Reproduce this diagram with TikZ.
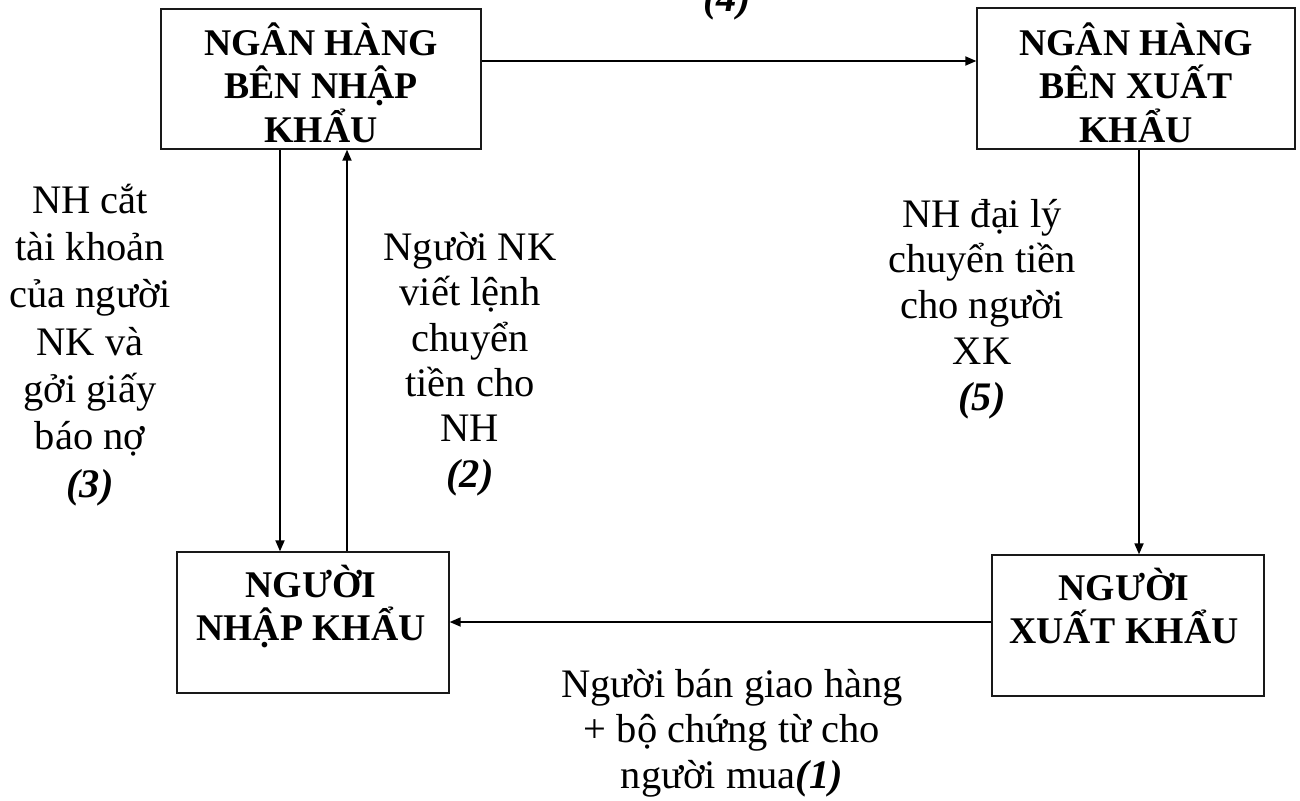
\documentclass[tikz,border=0pt]{standalone}
\usepackage{fontspec}
\setmainfont{Liberation Serif}
\usetikzlibrary{arrows.meta}

\tikzset{
  box/.style={draw=black!90, line width=1.3pt, rectangle, inner sep=0pt},
  boxtext/.style={anchor=north, inner sep=0pt, align=center,
    font=\fontsize{37.7pt}{43.5pt}\selectfont\bfseries},
  lbl/.style={anchor=north, inner sep=0pt, align=center,
    font=\fontsize{40.5pt}{45.5pt}\selectfont},
  arr/.style={line width=1.8pt, -{Triangle[length=11pt,width=9pt]}},
}
% first-line strut: node tops sit 42pt above the first baseline
\newcommand\tallstrut{\rule{0pt}{42pt}}
\newcommand\stepno[1]{\textbf{\textit{(#1)}}}

\begin{document}
\begin{tikzpicture}[x=1pt, y=-1pt]
  \useasboundingbox (0,0) rectangle (1300,800);
  \clip (0,0) rectangle (1300,800);

  % the four parties
  \node[box, minimum width=320pt, minimum height=140pt] (nhnk) at (321,79) {};
  \node[box, minimum width=318pt, minimum height=141pt] (nhxk) at (1136,78.5) {};
  \node[box, minimum width=272pt, minimum height=141pt] (nnk) at (313,622.5) {};
  \node[box, minimum width=272pt, minimum height=141pt] (nxk) at (1128,625.5) {};

  \node[boxtext] (nhnk-t) at (321,55-42) {\tallstrut NGÂN HÀNG\\BÊN NHẬP\\KHẨU};
  \node[boxtext] (nhxk-t) at (1136,55-42) {\tallstrut NGÂN HÀNG\\BÊN XUẤT\\KHẨU};
  \node[boxtext] (nnk-t) at (311,597-42) {\tallstrut NGƯỜI\\NHẬP KHẨU};
  \node[boxtext] (nxk-t) at (1124,600-42) {\tallstrut NGƯỜI\\XUẤT KHẨU};

  % flows
  \draw[arr] ([yshift=18pt]nhnk.east) -- ([yshift=18pt]nhnk.east -| nhxk.west);
  \draw[arr] ([xshift=-41pt]nhnk.south) -- ([xshift=-41pt]nhnk.south |- nnk.north);
  \draw[arr] ([xshift=34pt]nnk.north) -- ([xshift=34pt]nnk.north |- nhnk.south);
  \draw[arr] ([xshift=3pt]nhxk.south) -- ([xshift=3pt]nhxk.south |- nxk.north);
  \draw[arr] ([yshift=3.5pt]nxk.west) -- ([yshift=3.5pt]nxk.west -| nnk.east);

  % step descriptions
  \node[anchor=base, inner sep=0pt, font=\fontsize{40.5pt}{45.5pt}\selectfont]
    (lbl4) at (727,12) {\stepno{4}};
  \node[lbl, font=\fontsize{40.5pt}{47.3pt}\selectfont] (lbl3) at (90,213-42)
    {\tallstrut NH cắt\\tài khoản\\của người\\NK và\\gởi giấy\\báo nợ\\\stepno{3}};
  \node[lbl, font=\fontsize{40.5pt}{45.4pt}\selectfont] (lbl2) at (470,260-42)
    {\tallstrut Người NK\\viết lệnh\\chuyển\\tiền cho\\NH\\\stepno{2}};
  \node[lbl, font=\fontsize{40.5pt}{45.75pt}\selectfont] (lbl5) at (982,227-42)
    {\tallstrut NH đại lý\\chuyển tiền\\cho người\\XK\\\stepno{5}};
  \node[lbl] (lbl1) at (732,697-42)
    {\tallstrut Người bán giao hàng\\+ bộ chứng từ cho\\người mua\stepno{1}};
\end{tikzpicture}
\end{document}
